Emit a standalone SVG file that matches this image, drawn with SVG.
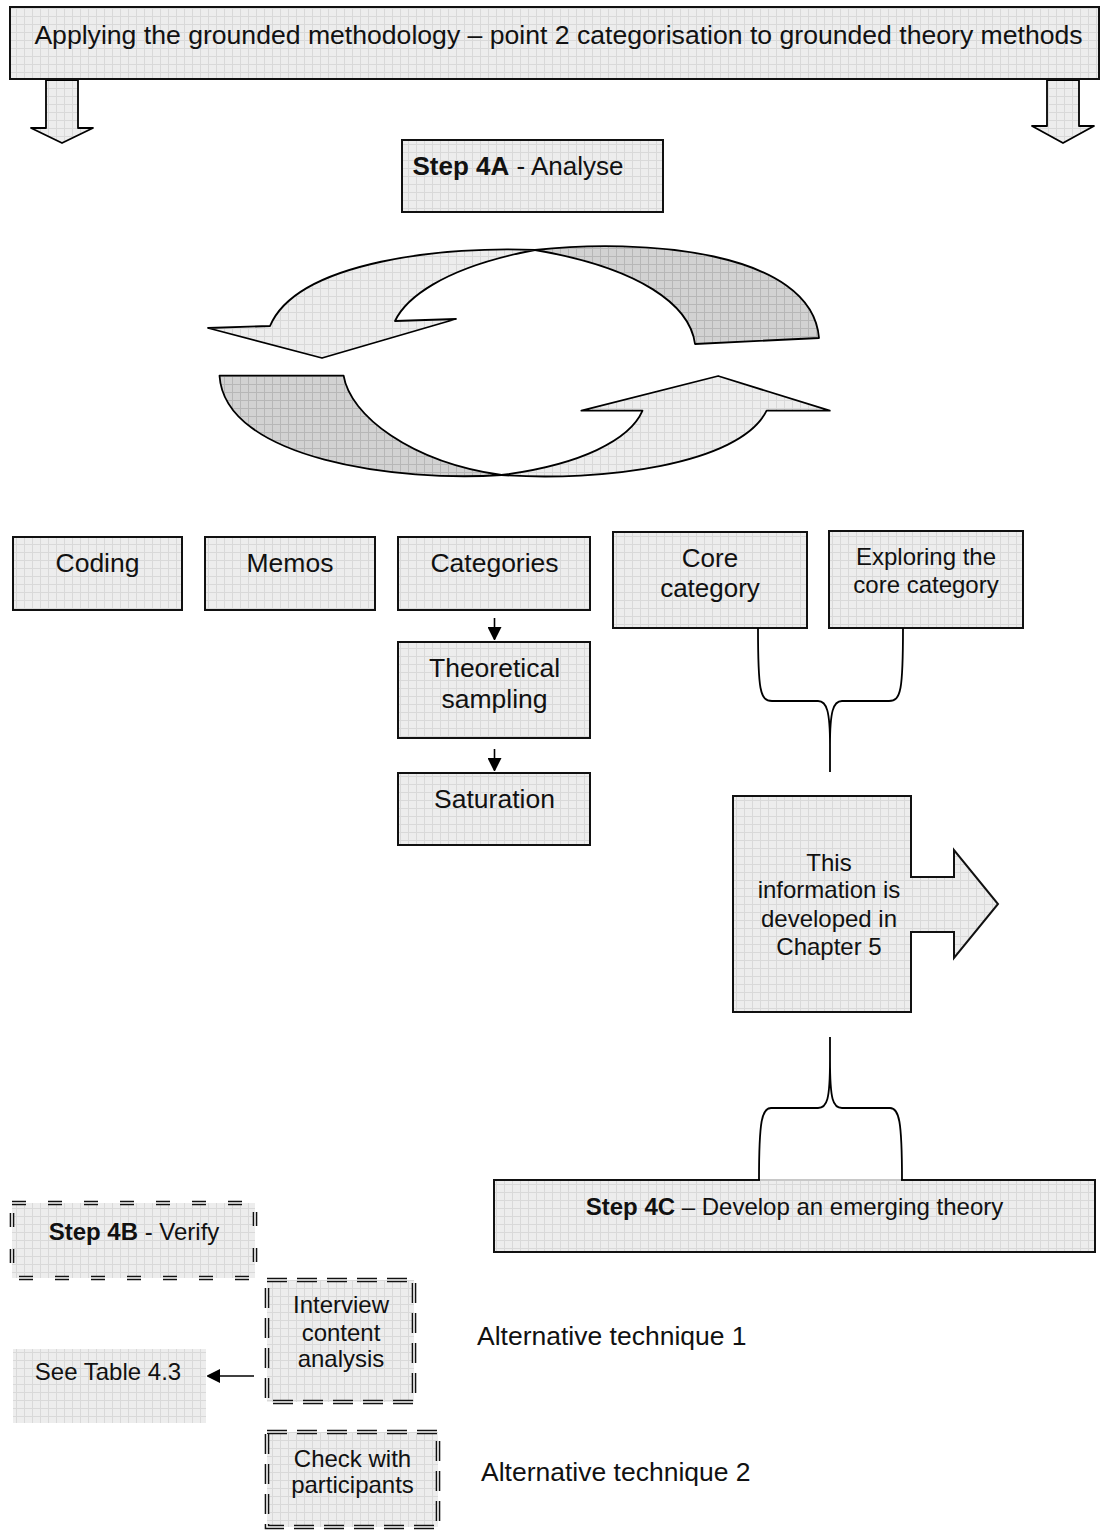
<svg xmlns="http://www.w3.org/2000/svg" width="1107" height="1530" viewBox="0 0 1107 1530">
  <defs>
    <!-- light squared fill used by boxes and arrows -->
    <pattern id="grid" width="8" height="8" patternUnits="userSpaceOnUse">
      <rect width="8" height="8" fill="#ededed"/>
      <path d="M0 0.5H8M0.5 0V8" stroke="#d9d9d9" stroke-width="1"/>
    </pattern>
    <!-- darker squared fill for the back faces of the cycle arrows -->
    <pattern id="gridDark" width="8" height="8" patternUnits="userSpaceOnUse">
      <rect width="8" height="8" fill="#d2d2d2"/>
      <path d="M0 0.5H8M0.5 0V8" stroke="#b7b7b7" stroke-width="1"/>
    </pattern>
    <marker id="head" viewBox="0 0 12 14" refX="13" refY="7" markerWidth="12" markerHeight="14" markerUnits="userSpaceOnUse" orient="auto">
      <path d="M0 0L14 7L0 14Z" fill="#000"/>
    </marker>
  </defs>
  <style>
    text { font-family: "Liberation Sans", Arial, sans-serif; fill: #111; text-anchor: middle; }
    .box { fill: url(#grid); stroke: #111; stroke-width: 2; }
    .plain { fill: url(#grid); stroke: none; }
    .light { fill: url(#grid); stroke: #000; stroke-width: 1.8; stroke-linejoin: round; }
    .dark { fill: url(#gridDark); stroke: #000; stroke-width: 1.8; stroke-linejoin: round; }
    .brace { fill: none; stroke: #000; stroke-width: 1.8; }
    .dashOuter { fill: url(#grid); stroke: #111; stroke-width: 4.6; }
    .dashInner { fill: none; stroke: #fff; stroke-width: 1.6; }
    .d1 { stroke-dasharray: 14 22; }
    .d2 { stroke-dasharray: 20 10; }
    .link { stroke: #000; stroke-width: 1.6; fill: none; marker-end: url(#head); }
    .b { font-weight: bold; }
  </style>

  <!-- banner and its two down arrows -->
  <g id="banner-arrows">
    <polygon class="light" points="46,80 46,128 31,128 62,143 93,128 78,128 78,80"/>
    <polygon class="light" points="1047,80 1047,126 1032,126 1063,143 1094,126 1079,126 1079,80"/>
  </g>
  <g id="banner">
    <rect class="box" x="10" y="7" width="1089" height="72"/>
    <text x="558.5" y="44" font-size="26.6">Applying the grounded methodology – point 2 categorisation to grounded theory methods</text>
  </g>

  <g id="step4a">
    <rect class="box" x="402" y="140" width="261" height="72"/>
    <text x="518" y="175" font-size="26"><tspan class="b">Step 4A</tspan> - Analyse</text>
  </g>

  <!-- analysis cycle: two curved arrows -->
  <g id="cycle">
    <path class="dark" d="M535,250 C640,238 812,250 819,338 L695,344 C690,305 640,268 535,250 Z"/>
    <path class="light" d="M535,250 C450,246 298,260 270,326 L208,328 L322,358 L456,319 L395,321 C405,300 440,268 535,250 Z"/>
    <path class="dark" d="M219.5,375.7 L343.6,375.7 C350,415 410,462 501.5,475 C400,482 225,460 219.5,375.7 Z"/>
    <path class="light" d="M501.5,475 C600,482 740,465 766.6,410.7 L829.8,410.7 L718.2,376 L581.4,410.7 L642.5,410.7 C630,440 580,465 501.5,475 Z"/>
  </g>

  <g id="coding">
    <rect class="box" x="13" y="537" width="169" height="73"/>
    <text x="97.5" y="572" font-size="26.5">Coding</text>
  </g>
  <g id="memos">
    <rect class="box" x="205" y="537" width="170" height="73"/>
    <text x="290" y="572" font-size="26.5">Memos</text>
  </g>
  <g id="categories">
    <rect class="box" x="398" y="537" width="192" height="73"/>
    <text x="494.5" y="572" font-size="26.5">Categories</text>
  </g>
  <g id="theoretical-sampling">
    <rect class="box" x="398" y="642" width="192" height="96"/>
    <text x="494.5" y="677" font-size="26.5">Theoretical</text>
    <text x="494.5" y="708" font-size="26.5">sampling</text>
  </g>
  <g id="saturation">
    <rect class="box" x="398" y="773" width="192" height="72"/>
    <text x="494.5" y="808" font-size="26.5">Saturation</text>
  </g>

  <g id="core-category">
    <rect class="box" x="613" y="532" width="194" height="96"/>
    <text x="710" y="567" font-size="26">Core</text>
    <text x="710" y="597" font-size="26">category</text>
  </g>
  <g id="exploring-core">
    <rect class="box" x="829" y="531" width="194" height="97"/>
    <text x="926" y="565" font-size="24">Exploring the</text>
    <text x="926" y="593" font-size="24">core category</text>
  </g>

  <g id="chapter5">
    <path class="box" d="M733,796 L911,796 L911,877 L954,877 L954,850 L998,904 L954,958 L954,932 L911,932 L911,1012 L733,1012 Z"/>
    <text x="829" y="871" font-size="24">This</text>
    <text x="829" y="898" font-size="24">information is</text>
    <text x="829" y="927" font-size="24">developed in</text>
    <text x="829" y="955" font-size="24">Chapter 5</text>
  </g>

  <g id="step4c">
    <rect class="box" x="494" y="1180" width="601" height="72"/>
    <line x1="760" y1="1180" x2="901" y2="1180" stroke="#c8c8c8" stroke-width="2"/>
    <text x="794.5" y="1215" font-size="24"><tspan class="b">Step 4C</tspan> – Develop an emerging theory</text>
  </g>

  <g id="step4b">
    <rect class="dashOuter d1" x="12" y="1203" width="243" height="75"/>
    <rect class="dashInner d1" x="12" y="1203" width="243" height="75"/>
    <text x="134" y="1240" font-size="24"><tspan class="b">Step 4B</tspan> - Verify</text>
  </g>

  <g id="interview-analysis">
    <rect class="dashOuter d2" x="267" y="1280" width="147" height="122"/>
    <rect class="dashInner d2" x="267" y="1280" width="147" height="122"/>
    <text x="341" y="1313" font-size="24">Interview</text>
    <text x="341" y="1341" font-size="24">content</text>
    <text x="341" y="1367" font-size="24">analysis</text>
  </g>

  <g id="see-table">
    <rect class="plain" x="13" y="1349" width="193" height="74"/>
    <text x="108" y="1380" font-size="24">See Table 4.3</text>
  </g>

  <g id="check-participants">
    <rect class="dashOuter d2" x="267" y="1432" width="171" height="95"/>
    <rect class="dashInner d2" x="267" y="1432" width="171" height="95"/>
    <text x="352.5" y="1467" font-size="24">Check with</text>
    <text x="352.5" y="1493" font-size="24">participants</text>
  </g>

  <g id="alt-technique-1">
    <text x="477" y="1345" font-size="26.5" style="text-anchor:start">Alternative technique 1</text>
  </g>
  <g id="alt-technique-2">
    <text x="481" y="1481" font-size="26.5" style="text-anchor:start">Alternative technique 2</text>
  </g>

  <!-- connectors -->
  <g id="connectors">
    <line class="link" x1="494.5" y1="618" x2="494.5" y2="640"/>
    <line class="link" x1="494.5" y1="749" x2="494.5" y2="771"/>
    <line class="link" x1="254" y1="1376" x2="207" y2="1376"/>
    <!-- brace joining the two core-category boxes -->
    <path class="brace" d="M758,628 C758,690 760,701 772,701 L818,701 C827,701 830,712 830,745 L830,772 M903,628 C903,690 901,701 889,701 L842,701 C833,701 830,712 830,745"/>
    <!-- brace spreading onto Step 4C -->
    <path class="brace" d="M830,1037 L830,1060 C830,1100 827,1108 818,1108 L771,1108 C762,1108 759,1120 759,1180 M830,1060 C830,1100 833,1108 842,1108 L890,1108 C899,1108 902,1120 902,1180"/>
  </g>
</svg>
